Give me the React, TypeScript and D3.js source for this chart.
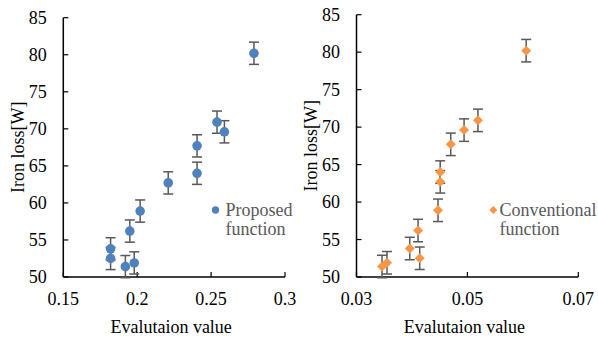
import * as d3 from 'd3';

// iron loss values, shared by both panels
const ironLoss = [80.2, 70.9, 69.6, 67.7, 64.0, 62.7, 58.9, 56.2, 53.8, 52.5, 51.4, 51.9];
const errors = [1.5, 1.5, 1.5, 1.5, 1.5, 1.5, 1.5, 1.5, 1.5, 1.5, 1.5, 1.5];
const proposedX = [0.279, 0.254, 0.259, 0.2405, 0.2405, 0.221, 0.202, 0.195, 0.182, 0.182, 0.192, 0.198];
const conventionalX = [0.0606, 0.0519, 0.0494, 0.047, 0.0451, 0.0451, 0.0447, 0.0411, 0.0396, 0.0414, 0.0346, 0.0355];

const yTicks = [50, 55, 60, 65, 70, 75, 80, 85];
const proposedTicks = [0.15, 0.2, 0.25, 0.3];
const conventionalTicks = [0.03, 0.05, 0.07];

const FONT = '"Liberation Serif"';

interface PanelProps {
  xs: number[];
  ticks: number[];
  domain: [number, number];
  left: number;
  right: number;
  top: number;
  bottom: number;
  color: string;
  shape: 'circle' | 'diamond';
  legend: string[];
  legendPos: [number, number];
  legendTextX: number;
}

function Label(props: any) {
  return <text fontFamily={FONT} fontSize={18} {...props} />;
}

function Panel(p: PanelProps) {
  const x = d3.scaleLinear().domain(p.domain).range([p.left, p.right]);
  const y = d3.scaleLinear().domain([50, 85]).range([p.bottom, p.top]);
  const isCircle = p.shape === 'circle';
  // diamonds are squares turned 45 degrees, like Excel's markers
  const symType = isCircle ? d3.symbolCircle : d3.symbolSquare;
  const rot = isCircle ? '' : ' rotate(45)';
  const marker = d3.symbol().type(symType).size(isCircle ? 72 : 50)() || '';
  const legendMarker = d3.symbol().type(symType).size(isCircle ? 42 : 32)() || '';
  const [lx, ly] = p.legendPos;

  return (
    <g>
      {/* y axis, ticks pointing inward */}
      <line x1={p.left} x2={p.left} y1={p.top} y2={p.bottom} stroke="#000" strokeWidth={1.5} />
      {yTicks.map((t) => (
        <g key={t}>
          <line x1={p.left} x2={p.left + 5} y1={y(t)} y2={y(t)} stroke="#000" strokeWidth={1.2} />
          <Label x={p.left - 16.5} y={y(t)} dy="0.35em" textAnchor="end" fill="#000">
            {t}
          </Label>
        </g>
      ))}
      {/* x axis */}
      <line x1={p.left} x2={p.right} y1={p.bottom} y2={p.bottom} stroke="#000" strokeWidth={1.5} />
      {p.ticks.map((t) => (
        <g key={t}>
          <line x1={x(t)} x2={x(t)} y1={p.bottom} y2={p.bottom - 5} stroke="#000" strokeWidth={1.2} />
          <Label x={x(t)} y={p.bottom + 28} textAnchor="middle" fill="#000">
            {String(t)}
          </Label>
        </g>
      ))}
      <Label x={(p.left + p.right) / 2 - 3} y={p.bottom + 56} textAnchor="middle" fill="#000">
        Evalutaion value
      </Label>
      <Label
        transform={`translate(${p.left - 46},${(p.top + p.bottom) / 2}) rotate(-90)`}
        textAnchor="middle"
        dy="0.35em"
        fill="#000"
      >
        Iron loss[W]
      </Label>
      {/* error bars */}
      {p.xs.map((xv, i) => {
        const cx = x(xv);
        const lo = y(ironLoss[i] - errors[i]);
        const hi = y(ironLoss[i] + errors[i]);
        return (
          <g key={i} stroke="#595959" strokeWidth={1.5}>
            <line x1={cx} x2={cx} y1={lo} y2={hi} />
            <line x1={cx - 5} x2={cx + 5} y1={lo} y2={lo} />
            <line x1={cx - 5} x2={cx + 5} y1={hi} y2={hi} />
          </g>
        );
      })}
      {/* points */}
      {p.xs.map((xv, i) => (
        <path key={i} d={marker} transform={`translate(${x(xv)},${y(ironLoss[i])})${rot}`} fill={p.color} />
      ))}
      {/* legend */}
      <path d={legendMarker} transform={`translate(${lx},${ly})${rot}`} fill={p.color} />
      {p.legend.map((line, i) => (
        <Label key={line} x={p.legendTextX} y={ly + 6 + i * 18.5} fill="#595959">
          {line}
        </Label>
      ))}
    </g>
  );
}

export default function App() {
  return (
    <svg width={598} height={338} style={{ position: 'absolute', left: 0, top: 0, background: '#fff' }}>
      <Panel
        xs={proposedX}
        ticks={proposedTicks}
        domain={[0.15, 0.3]}
        left={63.3}
        right={285}
        top={17.7}
        bottom={277}
        color="#4F81BD"
        shape="circle"
        legend={['Proposed', 'function']}
        legendPos={[215.5, 210]}
        legendTextX={225.5}
      />
      <Panel
        xs={conventionalX}
        ticks={conventionalTicks}
        domain={[0.03, 0.07]}
        left={356.5}
        right={578.3}
        top={14.7}
        bottom={277}
        color="#F79646"
        shape="diamond"
        legend={['Conventional', 'function']}
        legendPos={[493.3, 210]}
        legendTextX={499.5}
      />
    </svg>
  );
}
